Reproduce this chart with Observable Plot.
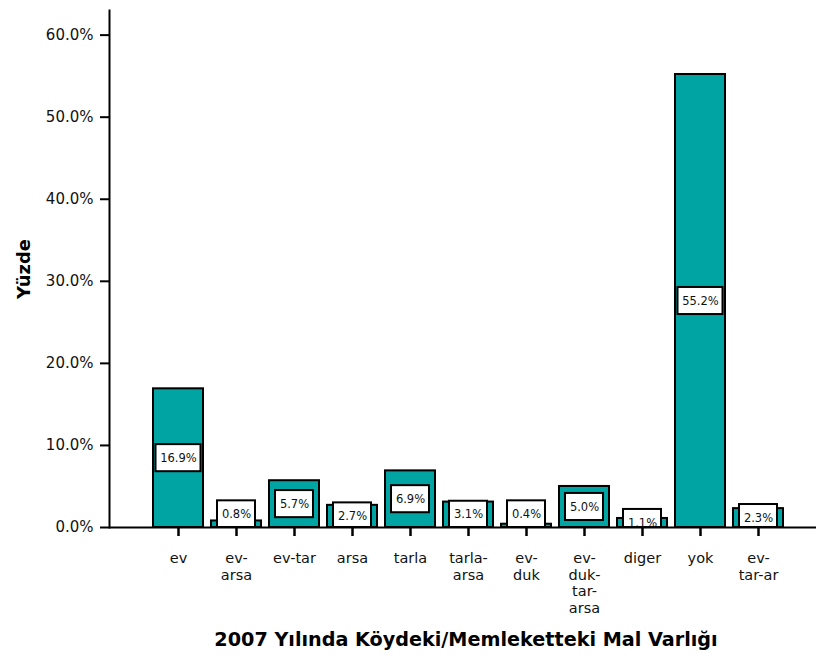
<!DOCTYPE html>
<html>
<head>
<meta charset="utf-8">
<script src="https://cdn.jsdelivr.net/npm/d3@7"></script>
<script src="https://cdn.jsdelivr.net/npm/@observablehq/plot@0.6"></script>
<style>
  html, body { margin: 0; padding: 0; background: #fff; }
  svg { display: block; }
</style>
</head>
<body>
<div id="chart"></div>
<script>
const categories = ["ev", "ev-arsa", "ev-tar", "arsa", "tarla", "tarla-arsa", "ev-duk", "ev-duk-tar-arsa", "diger", "yok", "ev-tar-ar"];
const tickLabels = ["ev", "ev-\narsa", "ev-tar", "arsa", "tarla", "tarla-\narsa", "ev-\nduk", "ev-\nduk-\ntar-\narsa", "diger", "yok", "ev-\ntar-ar"];
const percents = [16.9, 0.8, 5.7, 2.7, 6.9, 3.1, 0.4, 5.0, 1.1, 55.2, 2.3];
const yTicks = [0, 10, 20, 30, 40, 50, 60];

const data = categories.map((c, i) => {
  const v = percents[i];
  const label = v.toFixed(1) + "%";
  const ly = v < 1 ? 1.6 : v / 2;
  return {cat: c, v, label, ly, lo: Math.max(0, ly - 1.65), hi: ly + 1.65};
});

const font = "'DejaVu Sans', Verdana, sans-serif";
const teal = "#00a5a3";

const chart = Plot.plot({
  width: 816,
  height: 662,
  marginLeft: 109,
  marginRight: 0,
  marginTop: 10,
  marginBottom: 135,
  style: {fontFamily: font, color: "#111", background: "#fff", overflow: "visible"},
  x: {type: "band", domain: categories, range: [150, 785], paddingInner: 0.145, paddingOuter: 0, label: null},
  y: {domain: [0, 63], label: null},
  marks: [
    Plot.barY(data, {x: "cat", y: "v", fill: teal, stroke: "#000", strokeWidth: 2}),
    Plot.barY(data.filter(d => d.label.length > 4), {x: "cat", y1: "lo", y2: "hi", fill: "#fff", stroke: "#000", strokeWidth: 2, insetLeft: 2.5, insetRight: 2.5}),
    Plot.barY(data.filter(d => d.label.length <= 4), {x: "cat", y1: "lo", y2: "hi", fill: "#fff", stroke: "#000", strokeWidth: 2, insetLeft: 6, insetRight: 6}),
    Plot.text(data, {x: "cat", y: "ly", text: "label", fontSize: 11.5, fill: "#111"}),
    Plot.ruleY([0], {stroke: "#000", strokeWidth: 2}),
    Plot.frame({anchor: "left", stroke: "#000", strokeWidth: 2}),
    Plot.ruleX(categories, {x: d => d, y1: 0, y2: -1.1, stroke: "#000", strokeWidth: 2}),
    Plot.axisY({ticks: yTicks, tickSize: 9, tickPadding: 7, tickFormat: d => d.toFixed(1) + "%", fontSize: 15, strokeWidth: 2, stroke: "#000", fill: "#111", label: null}),
    Plot.axisX({tickSize: 9, tickPadding: 14, tickFormat: d => tickLabels[categories.indexOf(d)], fontSize: 14.5, lineHeight: 1.17, stroke: "#000", strokeWidth: 2, strokeOpacity: 1, fill: "#111", label: null}),
    Plot.text(["Yüzde"], {frameAnchor: "left", dx: -85, rotate: -90, textAnchor: "middle", fontSize: 18, fontWeight: "bold", fill: "#000"}),
    Plot.text(["2007 Yılında Köydeki/Memleketteki Mal Varlığı"], {frameAnchor: "bottom", dx: 3, dy: 118, fontSize: 19.2, fontWeight: "bold", fill: "#000"})
  ]
});
document.getElementById("chart").appendChild(chart);
</script>
</body>
</html>
